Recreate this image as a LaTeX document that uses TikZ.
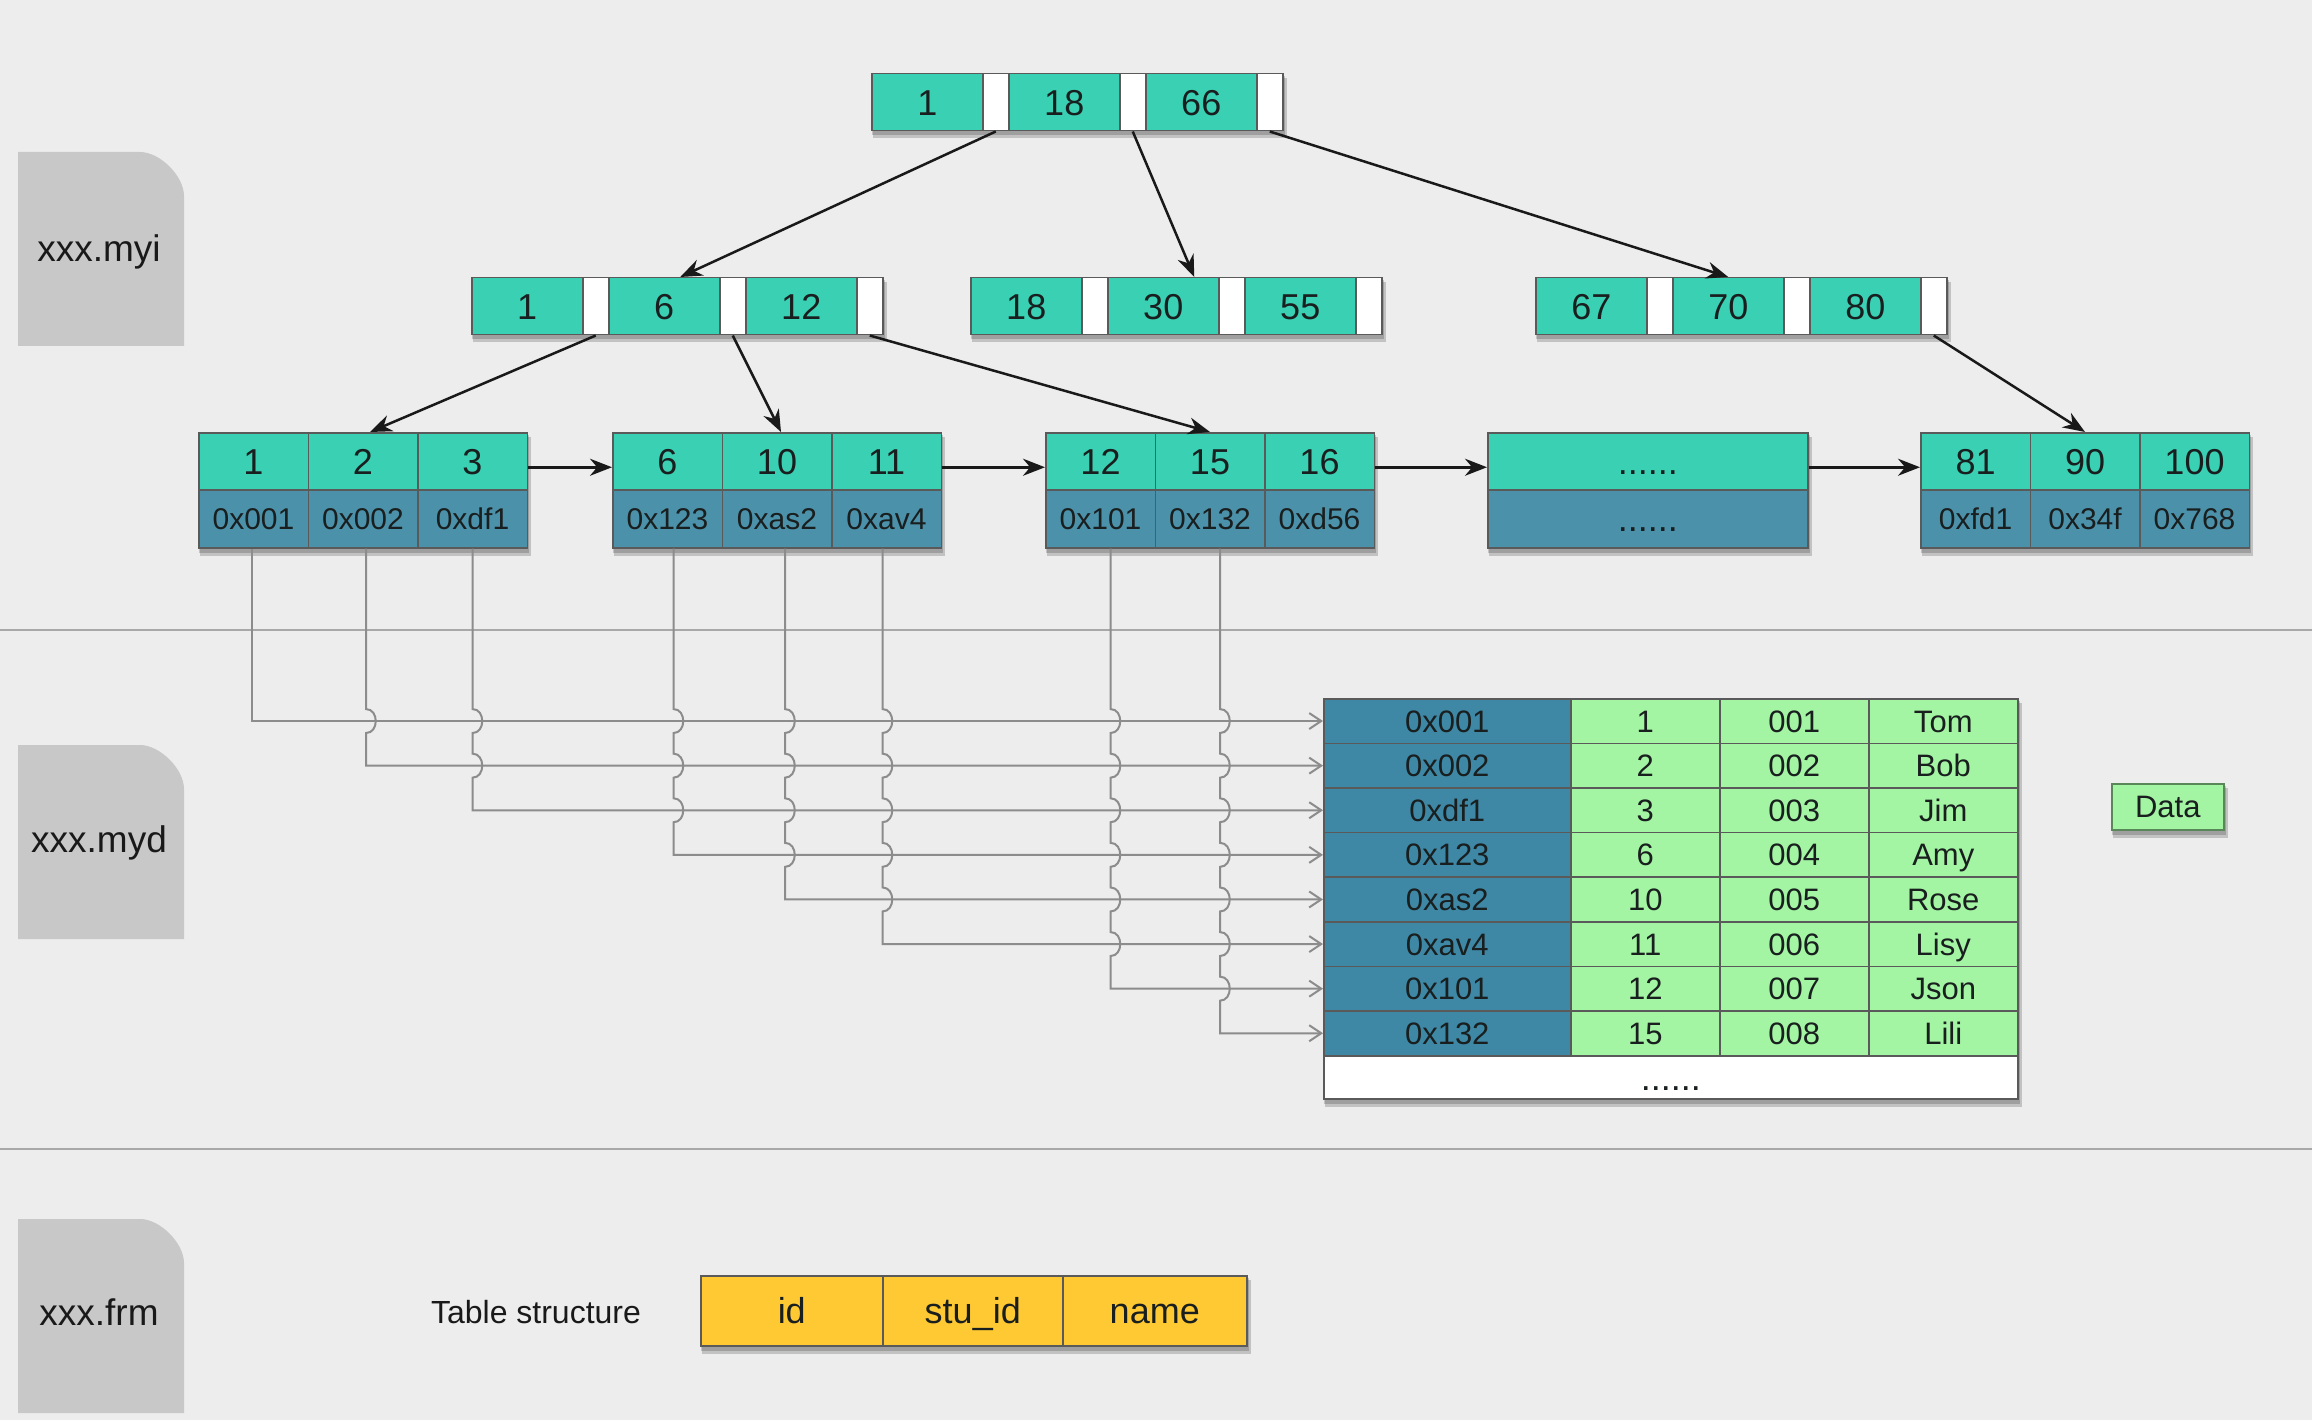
\documentclass[tikz,border=0pt]{standalone}
\usepackage{fontspec}
\setmainfont{Liberation Sans}
\usetikzlibrary{arrows.meta,calc,backgrounds}

\definecolor{bgc}{RGB}{237,237,237}
\definecolor{tealc}{RGB}{58,208,180}
\definecolor{blueleaf}{RGB}{76,145,170}
\definecolor{bluetab}{RGB}{62,136,166}
\definecolor{greenc}{RGB}{163,245,163}
\definecolor{yellowc}{RGB}{255,201,51}
\definecolor{iconc}{RGB}{200,200,200}
\definecolor{borderc}{RGB}{90,90,90}
\definecolor{connc}{RGB}{140,140,140}
\definecolor{sepc}{RGB}{168,168,168}
\definecolor{txtc}{RGB}{25,30,30}

\tikzset{
  cellbase/.style={draw=borderc, line width=1.5pt, anchor=north west, inner sep=0pt,
    text=txtc, text depth=0pt},
  fbig/.style={font=\fontsize{36}{40}\selectfont, text height=25.8pt},
  fmid/.style={font=\fontsize{31}{34}\selectfont, text height=22.2pt},
  fsmall/.style={font=\fontsize{30}{34}\selectfont, text height=21.5pt},
  tcell/.style={cellbase, fill=tealc, minimum width=111pt, minimum height=57pt, fbig},
  wcell/.style={cellbase, fill=white, minimum width=26pt, minimum height=57pt},
  ltop/.style={cellbase, fill=tealc, minimum width=109.5pt, minimum height=57pt, fbig},
  lbot/.style={cellbase, fill=blueleaf, minimum width=109.5pt, minimum height=58pt, fsmall},
  taddr/.style={cellbase, fill=bluetab, minimum width=247pt, minimum height=44.6pt, fmid},
  tdata/.style={cellbase, fill=greenc, minimum width=149pt, minimum height=44.6pt, fmid},
  ycell/.style={cellbase, fill=yellowc, minimum height=70pt, fbig},
  filelabel/.style={inner sep=0pt, text depth=0pt, font=\fontsize{37}{40}\selectfont, text height=26.5pt, text=black!90},
  treearrow/.style={draw=black!90, line width=2.5pt, -{Stealth[length=22pt,width=17pt]}},
  conn/.style={draw=connc, line width=2pt, -{Straight Barb[length=12pt,width=16pt,line width=2pt]}},
  sepline/.style={draw=sepc, line width=2.5pt},
  shadowc/.style={fill=black, opacity=0.18},
}

\newcommand\hopat[2]{-- ($(#1 |- #2)+(0,-12)$) .. controls +(13,0) and +(13,0) .. ($(#1 |- #2)+(0,12)$)}

\begin{document}
\begin{tikzpicture}[x=1pt,y=-1pt]
\useasboundingbox (0,0) rectangle (2312,1420);

% separators
\draw[sepline] (0,630) -- (2312,630);
\draw[sepline] (0,1149) -- (2312,1149);

% file icons
\foreach \yy/\nm/\lab/\ty in {152/myi/xxx.myi/248, 745/myd/xxx.myd/839, 1219/frm/xxx.frm/1312} {
  \fill[iconc] (18,\yy) -- (140,\yy) .. controls (160,\yy) and (184,{\yy+24}) .. (184,{\yy+44}) -- (184,{\yy+194}) -- (18,{\yy+194}) -- cycle;
  \node[filelabel] (\nm) at (99,\ty) {\lab};
}

% root node
\foreach \lab [count=\k from 0] in {1,18,66} {
  \node[tcell] (T\k) at ({871+137*\k},73) {\lab};
  \node[wcell] (TW\k) at ({982+137*\k},73) {};
}
% level 2
\foreach \lab [count=\k from 0] in {1,6,12} {
  \node[tcell] (A\k) at ({471+137*\k},277) {\lab};
  \node[wcell] (AW\k) at ({582+137*\k},277) {};
}
\foreach \lab [count=\k from 0] in {18,30,55} {
  \node[tcell] (B\k) at ({970+137*\k},277) {\lab};
  \node[wcell] (BW\k) at ({1081+137*\k},277) {};
}
\foreach \lab [count=\k from 0] in {67,70,80} {
  \node[tcell] (C\k) at ({1535+137*\k},277) {\lab};
  \node[wcell] (CW\k) at ({1646+137*\k},277) {};
}

% leaves
\foreach \t/\b [count=\k from 0] in {1/0x001,2/0x002,3/0xdf1} {
  \node[ltop] (La\k) at ({198+109.5*\k},432) {\t};
  \node[lbot] (Lab\k) at ({198+109.5*\k},489) {\b};
}
\foreach \t/\b [count=\k from 0] in {6/0x123,10/0xas2,11/0xav4} {
  \node[ltop] (Lb\k) at ({612+109.5*\k},432) {\t};
  \node[lbot] (Lbb\k) at ({612+109.5*\k},489) {\b};
}
\foreach \t/\b [count=\k from 0] in {12/0x101,15/0x132,16/0xd56} {
  \node[ltop] (Lc\k) at ({1045+109.5*\k},432) {\t};
  \node[lbot] (Lcb\k) at ({1045+109.5*\k},489) {\b};
}
\node[ltop, minimum width=320pt] (Ld) at (1487,432) {......};
\node[lbot, minimum width=320pt, fbig] (Ldb) at (1487,489) {......};
\foreach \t/\b [count=\k from 0] in {81/0xfd1,90/0x34f,100/0x768} {
  \node[ltop] (Le\k) at ({1920+109.5*\k},432) {\t};
  \node[lbot] (Leb\k) at ({1920+109.5*\k},489) {\b};
}

% data table
\foreach \a/\i/\s/\n [count=\k from 0] in {0x001/1/001/Tom, 0x002/2/002/Bob, 0xdf1/3/003/Jim, 0x123/6/004/Amy, 0xas2/10/005/Rose, 0xav4/11/006/Lisy, 0x101/12/007/Json, 0x132/15/008/Lili} {
  \node[taddr] (R\k) at (1323,{698+44.6*\k}) {\a};
  \node[tdata] (Ri\k) at (1570,{698+44.6*\k}) {\i};
  \node[tdata] (Rs\k) at (1719,{698+44.6*\k}) {\s};
  \node[tdata] (Rn\k) at (1868,{698+44.6*\k}) {\n};
}
\node[cellbase, fill=white, minimum width=694pt, minimum height=43pt, fbig] (RW) at (1323,1055) {......};

% Data label
\node[cellbase, fill=greenc, draw=black!45!greenc, minimum width=112pt, minimum height=46pt, fmid] (data) at (2111,783) {Data};

% table structure
\node[filelabel, font=\fontsize{32}{36}\selectfont, text height=23pt] (ts) at (536,1312) {Table structure};
\node[ycell, minimum width=182pt] (Y0) at (700,1275) {id};
\node[ycell, minimum width=180pt] (Y1) at (882,1275) {stu\_id};
\node[ycell, minimum width=184pt] (Y2) at (1062,1275) {name};

% tree arrows
\draw[treearrow] (TW0.south) -- ([xshift=16pt]A1.north);
\draw[treearrow] (TW1.south) -- ([xshift=31pt]B1.north);
\draw[treearrow] (TW2.south) -- (C1.north);
\draw[treearrow] (AW0.south) -- ([xshift=7pt]La1.north);
\draw[treearrow] (AW1.south) -- ([xshift=4pt]Lb1.north);
\draw[treearrow] (AW2.south) -- (Lc1.north);
\draw[treearrow] (CW2.south) -- (Le1.north);

% leaf chain
\draw[treearrow] ([yshift=-6pt]La2.east) -- ([yshift=-6pt]Lb0.west);
\draw[treearrow] ([yshift=-6pt]Lb2.east) -- ([yshift=-6pt]Lc0.west);
\draw[treearrow] ([yshift=-6pt]Lc2.east) -- ([yshift=-6pt]Ld.west);
\draw[treearrow] ([yshift=-6pt]Ld.east) -- ([yshift=-6pt]Le0.west);

% pointers to data rows
\coordinate (v0) at ([xshift=-2pt]Lab0.south);
\coordinate (v1) at ([xshift=3pt]Lab1.south);
\coordinate (v2) at (Lab2.south);
\coordinate (v3) at ([xshift=6pt]Lbb0.south);
\coordinate (v4) at ([xshift=8pt]Lbb1.south);
\coordinate (v5) at ([xshift=-4pt]Lbb2.south);
\coordinate (v6) at ([xshift=10pt]Lcb0.south);
\coordinate (v7) at ([xshift=10pt]Lcb1.south);

\draw[conn] (v0) -- (v0 |- R0.west) -- (R0.west);
\draw[conn] (v1) \hopat{v1}{R0.west} -- (v1 |- R1.west) -- (R1.west);
\draw[conn] (v2) \hopat{v2}{R0.west} \hopat{v2}{R1.west} -- (v2 |- R2.west) -- (R2.west);
\draw[conn] (v3) \hopat{v3}{R0.west} \hopat{v3}{R1.west} \hopat{v3}{R2.west} -- (v3 |- R3.west) -- (R3.west);
\draw[conn] (v4) \hopat{v4}{R0.west} \hopat{v4}{R1.west} \hopat{v4}{R2.west} \hopat{v4}{R3.west} -- (v4 |- R4.west) -- (R4.west);
\draw[conn] (v5) \hopat{v5}{R0.west} \hopat{v5}{R1.west} \hopat{v5}{R2.west} \hopat{v5}{R3.west} \hopat{v5}{R4.west} -- (v5 |- R5.west) -- (R5.west);
\draw[conn] (v6) \hopat{v6}{R0.west} \hopat{v6}{R1.west} \hopat{v6}{R2.west} \hopat{v6}{R3.west} \hopat{v6}{R4.west} \hopat{v6}{R5.west} -- (v6 |- R6.west) -- (R6.west);
\draw[conn] (v7) \hopat{v7}{R0.west} \hopat{v7}{R1.west} \hopat{v7}{R2.west} \hopat{v7}{R3.west} \hopat{v7}{R4.west} \hopat{v7}{R5.west} \hopat{v7}{R6.west} -- (v7 |- R7.west) -- (R7.west);

% background and shadows
\begin{scope}[on background layer]
  \fill[bgc] (0,0) rectangle (2312,1420);
  \foreach \a/\b in {T0/TW2, A0/AW2, B0/BW2, C0/CW2, La0/Lab2, Lb0/Lbb2, Lc0/Lcb2, Ld/Ldb, Le0/Leb2, R0/RW, Y0/Y2, data/data} {
    \fill[shadowc] ($(\a.north west)+(2,5)$) rectangle ($(\b.south east)+(3,7)$);
    \fill[shadowc] ($(\a.north west)+(1,3)$) rectangle ($(\b.south east)+(1,4)$);
  }
\end{scope}
\end{tikzpicture}
\end{document}
